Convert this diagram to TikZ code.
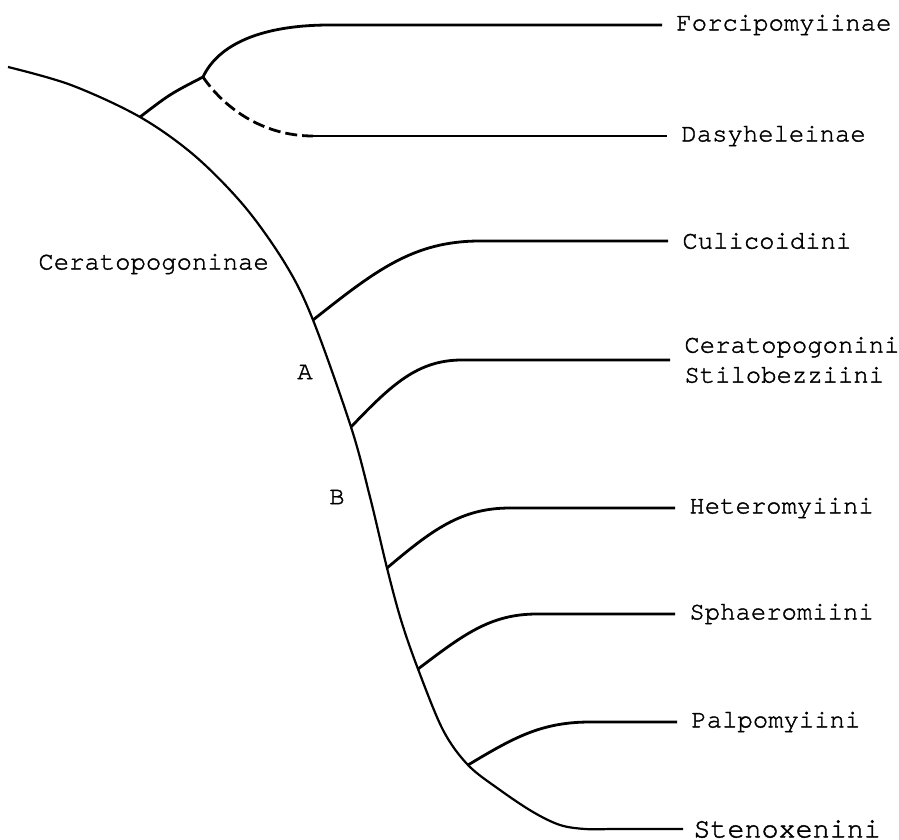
\documentclass[tikz,border=0pt]{standalone}
\usepackage{fontspec}
\newfontfamily\typewriter[FakeBold=1.5]{texgyrecursor-regular.otf}
\usepackage{tikz}
\tikzset{
  taxon/.style={ anchor=west, inner xsep=7pt, inner ysep=1pt, align=left,
    font=\fontsize{12.8}{15}\selectfont\typewriter }
}
\tikzset{
  tag/.style={ inner sep=0pt, font=\fontsize{12.8}{15}\selectfont\typewriter }
}
\tikzset{
  stem/.style={ line width=1.1pt }
}
\tikzset{
  branch/.style={ line width=1.4pt }
}

\begin{document}
\begin{tikzpicture}[x=0.5pt, y=-0.5pt]
      \useasboundingbox (0,0) rectangle (899,840);
      % points where the lineages split
      \coordinate (top) at (8,67);
      \coordinate (J1) at (140,117);
      \coordinate (J2) at (203,77);
      \coordinate (J3) at (313,320);
      \coordinate (J4) at (351,427);
      \coordinate (J5) at (387,568);
      \coordinate (J6) at (418,669);
      \coordinate (J7) at (468,765);
      \coordinate (dashend) at (313,136);
      % terminal taxa
      \node[taxon] (forc) at (662,25) {Forcipomyiinae};
      \node[taxon] (dasy) at (667,136) {Dasyheleinae};
      \node[taxon] (culi) at (668,241) {Culicoidini};
      \node[taxon] (cera) at (670,360) {Ceratopogonini\\Stilobezziini};
      \node[taxon] (hete) at (675,508) {Heteromyiini};
      \node[taxon] (spha) at (675,614) {Sphaeromiini};
      \node[taxon] (palp) at (677,722) {Palpomyiini};
      \node[taxon, inner xsep=5pt, inner ysep=0pt, font=\fontsize{14.2}{17}\selectfont\typewriter] (sten) at (683,829) {Stenoxenini};
      \node[tag, anchor=west] (subfam) at (38,264) {Ceratopogoninae};
      \node[tag] (A) at (305,372) {A};
      \node[tag] (B) at (337,497) {B};
      % main stem
      \draw[stem] plot[smooth, tension=0.55] coordinates {(top) (71,85) (J1) (195,156) (245,207) (286,265) (J3) (J4) (370,497) (J5) (401,620) (J6) (443,730) (J7) (500,790) (533,812) (560,825) (585,829) (610,829)} -- (sten.west);
      % side branches
      \draw[branch] (J1) .. controls (170,94) .. (J2);
      \draw[branch] (J2) .. controls (218,45) and (260,25) .. (330,25) -- (forc.west);
      \draw[branch, dash pattern=on 6pt off 2.5pt] (J2) .. controls (222,105) and (260,136) .. (dashend);
      \draw[branch] (dashend) -- (dasy.west);
      \draw[branch] (J3) .. controls (375,271) and (413,241) .. (480,241) -- (culi.west);
      \draw[branch] (J4) .. controls (392,384) and (418,360) .. (462,360) -- (cera.west);
      \draw[branch] (J5) .. controls (432,530) and (461,508) .. (510,508) -- (hete.west);
      \draw[branch] (J6) .. controls (463,635) and (490,614) .. (537,614) -- (spha.west);
      \draw[branch] (J7) .. controls (513,738) and (541,722) .. (590,722) -- (palp.west);
    \end{tikzpicture}
\end{document}
